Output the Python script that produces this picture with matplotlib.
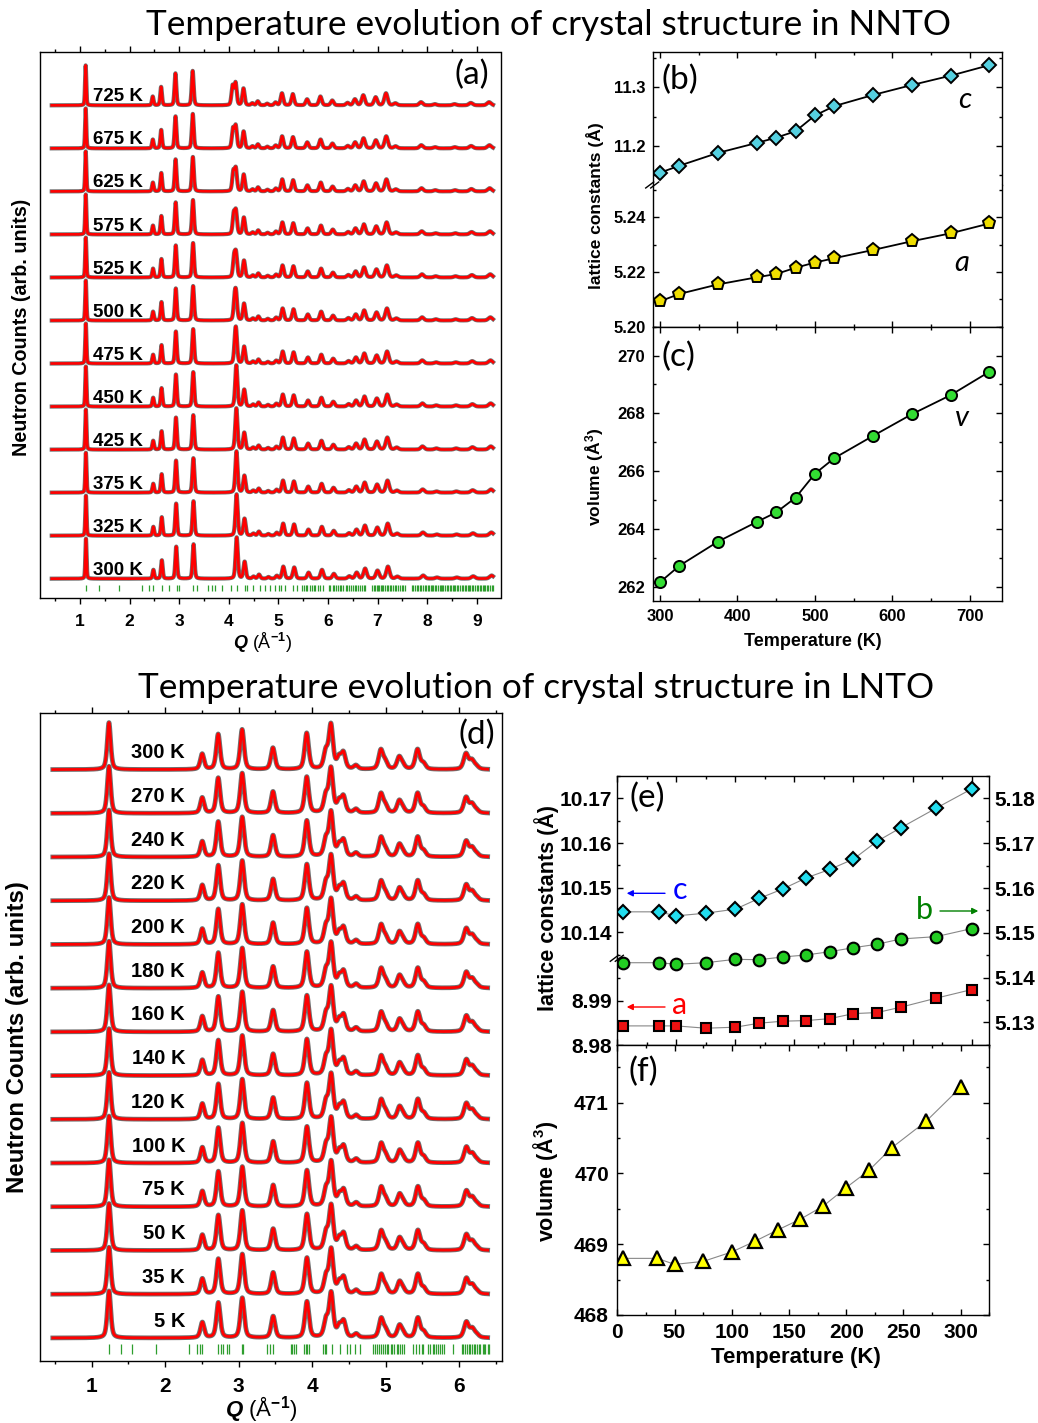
import matplotlib
matplotlib.use("Agg")
import matplotlib.pyplot as plt
import numpy as np
from matplotlib.ticker import MultipleLocator, FormatStrFormatter

plt.rcParams["font.family"] = ["Liberation Sans", "DejaVu Sans"]
plt.rcParams["font.weight"] = "bold"
plt.rcParams["mathtext.fontset"] = "custom"
plt.rcParams["mathtext.rm"] = "Liberation Sans"
plt.rcParams["mathtext.it"] = "Liberation Sans:italic:bold"
plt.rcParams["mathtext.bf"] = "Liberation Sans:bold"
plt.rcParams["axes.linewidth"] = 1.0

W, H = 1038, 1423

# -------------------------------------------------------------------
# NNTO (top half)
# -------------------------------------------------------------------
nnto_temps = [725, 675, 625, 575, 525, 500, 475, 450, 425, 375, 325, 300]
# separation of the doublet near Q = 4.16 at each temperature
nnto_split = [0.06, 0.055, 0.05, 0.045, 0.04, 0.03, 0.02, 0.0, 0.0, 0.0, 0.0, 0.0]
nnto_peak_q = [1.12, 2.48, 2.65, 2.94, 3.29, 4.32, 4.50, 4.61, 4.80, 4.97, 5.10,
               5.32, 5.61, 5.88, 6.12, 6.43, 6.58, 6.75, 7.00, 7.21, 7.40, 7.92,
               8.20, 8.60, 8.93, 9.30]
nnto_peak_h = [1.0, 0.22, 0.46, 0.80, 0.86, 0.42, 0.05, 0.10, 0.04, 0.07, 0.30,
               0.28, 0.15, 0.22, 0.12, 0.06, 0.15, 0.25, 0.20, 0.30, 0.05, 0.08,
               0.03, 0.03, 0.06, 0.08]
nnto_doublet_q = 4.16
nnto_doublet_h = [0.48, 0.55]
nnto_bragg = [1.121, 1.390, 1.793, 2.243, 2.398, 2.478, 2.653, 2.788, 2.949, 3.003,
              3.285, 3.366, 3.588, 3.655, 3.715, 3.856, 4.038, 4.159, 4.320, 4.374,
              4.495, 4.629, 4.737, 4.831, 4.938, 5.005, 5.059, 5.140, 5.288, 5.368,
              5.47, 5.51, 5.55, 5.58, 5.63, 5.67, 5.71, 5.74, 5.79, 5.84, 5.90,
              6.02, 6.05, 6.10, 6.12, 6.17, 6.20, 6.24, 6.27, 6.31, 6.36, 6.38,
              6.43, 6.47, 6.50, 6.54, 6.57, 6.61, 6.64, 6.68, 6.72, 6.75,
              6.88, 6.92, 6.94, 6.98, 7.01, 7.03, 7.07, 7.10, 7.12, 7.16, 7.19,
              7.21, 7.25, 7.28, 7.31, 7.35, 7.38, 7.42, 7.45, 7.49, 7.52, 7.56,
              7.70, 7.72, 7.76, 7.80, 7.82, 7.86, 7.88, 7.92, 7.95, 7.97, 8.01,
              8.03, 8.07, 8.10, 8.12, 8.16, 8.18, 8.22, 8.25, 8.27, 8.31, 8.33,
              8.37, 8.40, 8.42, 8.46, 8.48, 8.52, 8.55, 8.57, 8.61, 8.63, 8.67,
              8.70, 8.72, 8.76, 8.78, 8.82, 8.85, 8.87, 8.91, 8.93, 8.97, 9.00,
              9.02, 9.06, 9.08, 9.12, 9.15, 9.17, 9.21, 9.23, 9.27, 9.30, 9.32]

T_nnto = [300, 325, 375, 425, 450, 475, 500, 525, 575, 625, 675, 725]
c_nnto = [11.154, 11.166, 11.188, 11.205, 11.214, 11.225, 11.252, 11.268,
          11.287, 11.304, 11.320, 11.338]
a_nnto = [5.2093, 5.2120, 5.2155, 5.2181, 5.2193, 5.2216, 5.2235, 5.2251,
          5.2281, 5.2313, 5.2342, 5.2378]
v_nnto = [262.15, 262.72, 263.56, 264.24, 264.57, 265.08, 265.91, 266.45,
          267.22, 267.97, 268.63, 269.44]

# -------------------------------------------------------------------
# LNTO (bottom half)
# -------------------------------------------------------------------
lnto_temps = [300, 270, 240, 220, 200, 180, 160, 140, 120, 100, 75, 50, 35, 5]
lnto_peak_q = [1.236, 2.506, 2.724, 3.05, 3.47, 3.93, 4.19, 4.26, 4.37, 4.43,
               4.60, 4.94, 5.00, 5.19, 5.24, 5.44, 5.52, 6.10, 6.18, 6.24]
lnto_peak_h = [1.0, 0.33, 0.75, 0.85, 0.46, 0.77, 0.35, 0.93, 0.22, 0.33,
               0.08, 0.40, 0.15, 0.25, 0.08, 0.42, 0.12, 0.33, 0.18, 0.06]
lnto_bragg = [1.236, 1.399, 1.544, 1.871, 2.324, 2.438, 2.474, 2.506, 2.724, 2.756,
              2.792, 2.837, 2.873, 3.050, 3.064, 3.381, 3.427, 3.472, 3.708, 3.731,
              3.753, 3.776, 3.894, 3.917, 3.935, 3.953, 4.144, 4.176, 4.189, 4.266,
              4.380, 4.480, 4.516, 4.584, 4.652,
              4.83, 4.86, 4.88, 4.91, 4.94, 4.96, 4.99, 5.02, 5.04, 5.07, 5.09,
              5.12, 5.15, 5.17, 5.20, 5.22, 5.25,
              5.378, 5.414, 5.459, 5.496, 5.514, 5.58, 5.61, 5.64, 5.66, 5.69,
              5.72, 5.74, 5.77, 5.79, 5.922,
              6.04, 6.06, 6.08, 6.11, 6.13, 6.15, 6.18, 6.20, 6.22, 6.25, 6.27,
              6.29, 6.32, 6.34, 6.36, 6.39, 6.41]

T_lnto = [5, 35, 50, 75, 100, 120, 140, 160, 180, 200, 220, 240, 270, 300]
c_lnto = [10.1446, 10.1446, 10.1437, 10.1443, 10.1452, 10.1476, 10.1497,
          10.1522, 10.1541, 10.1564, 10.1604, 10.1634, 10.1678, 10.1721]
b_lnto = [5.14333, 5.14333, 5.14298, 5.14333, 5.14409, 5.14400, 5.14461,
          5.14506, 5.14579, 5.14669, 5.14745, 5.14863, 5.14915, 5.15094]
a_lnto = [8.98434, 8.98434, 8.98434, 8.98382, 8.98405, 8.98494, 8.98539,
          8.98553, 8.98597, 8.98709, 8.98732, 8.98852, 8.99054, 8.99246]
v_lnto = [468.80, 468.80, 468.715, 468.757, 468.89, 469.04, 469.20, 469.354,
          469.54, 469.80, 470.045, 470.365, 470.74, 471.216]

BRAGG_GREEN = "#2e9e2e"
OBS_GREY = "#707070"


def box(x0, y0, x1, y1):
    return [x0 / W, 1 - y1 / H, (x1 - x0) / W, (y1 - y0) / H]


def profile(q, centers, heights, fwhms, eta):
    y = np.zeros_like(q)
    for q0, h, w in zip(centers, heights, fwhms):
        x = (q - q0) / (w / 2)
        y += h * (eta / (1 + x**2) + (1 - eta) * np.exp(-np.log(2) * x**2))
    return y


def ticks(ax, size, direction, pad, major=4, minor=2.5):
    ax.tick_params(axis="both", which="both", direction=direction,
                   labelsize=size, pad=pad, width=1)
    ax.tick_params(which="major", length=major)
    ax.tick_params(which="minor", length=minor)


def break_mark(x, y):
    for dx in (-3, 2):
        fig.add_artist(plt.Line2D([(x + dx - 4) / W, (x + dx + 4) / W],
                                  [1 - (y + 3) / H, 1 - (y - 3) / H],
                                  color="black", lw=1.0))


def ftext(x, y, s, **kw):
    fig.text(x / W, 1 - y / H, s, **kw)


fig = plt.figure(figsize=(W / 100, H / 100), dpi=100)

# Titles
ftext(548, 35, "Temperature evolution of crystal structure in NNTO",
      family="Lato", fontweight="normal", fontsize=25.3, ha="center", va="baseline")
ftext(536, 698, "Temperature evolution of crystal structure in LNTO",
      family="Lato", fontweight="normal", fontsize=25.3, ha="center", va="baseline")

# -------------------------------------------------------------------
# (a) NNTO diffraction patterns
# -------------------------------------------------------------------
ax_a = fig.add_axes(box(40, 51.5, 500.5, 598.3))
q_a = np.linspace(0.43, 9.33, 4000)
a_at = dict(zip(T_nnto, a_nnto))
n = len(nnto_temps)
for i, (T, sp) in enumerate(zip(nnto_temps, nnto_split)):
    off = (n - 1 - i) * 1.075
    s = a_at[300] / a_at[T]
    qs = [q * s for q in nnto_peak_q] + [nnto_doublet_q * s - sp, nnto_doublet_q * s]
    hs = nnto_peak_h + nnto_doublet_h
    y = profile(q_a, qs, hs, [0.02 + 0.008 * q for q in qs], 0.3) + off
    ax_a.plot(q_a, y, color=OBS_GREY, lw=3.0)
    ax_a.plot(q_a, y, color="red", lw=1.9)
    ax_a.text(2.27, off + 0.21, f"{T} K", ha="right", va="center",
              fontsize=13.5, fontweight="bold")
ax_a.vlines(nnto_bragg, -0.30, -0.15, color=BRAGG_GREEN, lw=0.9)
ax_a.set_xlim(0.193, 9.48)
ax_a.set_ylim(-0.49, 13.17)
ax_a.set_yticks([])
ax_a.xaxis.set_major_locator(MultipleLocator(1))
ax_a.xaxis.set_minor_locator(MultipleLocator(0.5))
ax_a.tick_params(top=True, which="both")
ticks(ax_a, 12.5, "out", 7)
ftext(471.5, 75, "(a)", family="Lato", fontweight="normal", fontsize=24,
      ha="center", va="center")
ftext(262, 643, r"$Q$ (Å$^{-1}$)", fontsize=13, fontweight="normal",
      ha="center", va="center")
ftext(22, 327, "Neutron Counts (arb. units)", fontsize=14.2, rotation=90,
      ha="center", va="center")

# -------------------------------------------------------------------
# (b) NNTO lattice constants (broken axis)
# -------------------------------------------------------------------
ax_bu = fig.add_axes(box(652.7, 51.7, 1001.7, 185))
ax_bl = fig.add_axes(box(652.7, 185, 1001.7, 326.7))
ax_bu.plot(T_nnto, c_nnto, color="black", lw=1.3, marker="D", ms=7.6,
           mfc="#55d0e0", mec="black", mew=1.4)
ax_bl.plot(T_nnto, a_nnto, color="black", lw=1.3, marker="p", ms=9.5,
           mfc="#eedd00", mec="black", mew=1.4)
for ax in (ax_bu, ax_bl):
    ax.set_xlim(290.6, 740.9)
    ax.xaxis.set_major_locator(MultipleLocator(100))
    ax.xaxis.set_minor_locator(MultipleLocator(50))
    ax.tick_params(top=True, right=True, which="both", labelbottom=False)
    ticks(ax, 12, "in", 5)
ax_bu.spines["bottom"].set_visible(False)
ax_bl.spines["top"].set_visible(False)
ax_bu.tick_params(bottom=False, which="both")
ax_bl.tick_params(top=False, which="both")
ax_bu.set_ylim(11.133, 11.361)
ax_bu.yaxis.set_major_locator(MultipleLocator(0.1))
ax_bu.yaxis.set_minor_locator(MultipleLocator(0.05))
ax_bu.yaxis.set_major_formatter(FormatStrFormatter("%.1f"))
ax_bl.set_ylim(5.20, 5.2519)
ax_bl.yaxis.set_major_locator(MultipleLocator(0.02))
ax_bl.yaxis.set_minor_locator(MultipleLocator(0.01))
ax_bl.yaxis.set_major_formatter(FormatStrFormatter("%.2f"))
break_mark(652.7, 185)
ftext(680, 80, "(b)", family="Lato", fontweight="normal", fontsize=24,
      ha="center", va="center")
ftext(965, 100, "c", family="Lato", style="italic", fontweight="normal",
      fontsize=21, ha="center", va="center")
ftext(962, 263, "a", family="Lato", style="italic", fontweight="normal",
      fontsize=21, ha="center", va="center")
ftext(595, 206, "lattice constants (Å)", fontsize=12.5, rotation=90,
      ha="center", va="center")

# -------------------------------------------------------------------
# (c) NNTO volume
# -------------------------------------------------------------------
ax_c = fig.add_axes(box(652.7, 326.7, 1001.7, 601))
ax_c.plot(T_nnto, v_nnto, color="black", lw=1.3, marker="o", ms=8,
          mfc="#33dd33", mec="black", mew=1.4)
ax_c.set_xlim(290.6, 740.9)
ax_c.set_ylim(261.5, 271.0)
ax_c.xaxis.set_major_locator(MultipleLocator(100))
ax_c.xaxis.set_minor_locator(MultipleLocator(50))
ax_c.yaxis.set_major_locator(MultipleLocator(2))
ax_c.yaxis.set_minor_locator(MultipleLocator(1))
ax_c.tick_params(top=True, right=True, which="both")
ticks(ax_c, 12, "in", 5.5)
ftext(678, 357, "(c)", family="Lato", fontweight="normal", fontsize=24,
      ha="center", va="center")
ftext(962, 418, "v", family="Lato", style="italic", fontweight="normal",
      fontsize=21, ha="center", va="center")
ftext(595, 477, "volume (Å$^3$)", fontsize=12.5, rotation=90,
      ha="center", va="center")
ftext(812.8, 641, "Temperature (K)", fontsize=13, ha="center", va="center")

# -------------------------------------------------------------------
# (d) LNTO diffraction patterns
# -------------------------------------------------------------------
ax_d = fig.add_axes(box(40, 712.7, 501.7, 1361))
q_d = np.linspace(0.47, 6.39, 4000)
a_l_at = dict(zip(T_lnto, a_lnto))
n = len(lnto_temps)
for i, T in enumerate(lnto_temps):
    off = (n - 1 - i) * 0.93
    s = a_l_at[5] / a_l_at[T]
    qs = [q * s for q in lnto_peak_q]
    y = profile(q_d, qs, lnto_peak_h, [0.05 + 0.004 * q for q in qs], 0.5) + off
    ax_d.plot(q_d, y, color=OBS_GREY, lw=3.4)
    ax_d.plot(q_d, y, color="red", lw=2.0)
    ax_d.text(2.27, off + 0.36, f"{T} K", ha="right", va="center",
              fontsize=14.5, fontweight="bold")
ax_d.vlines(lnto_bragg, -0.34, -0.13, color=BRAGG_GREEN, lw=0.9)
ax_d.set_xlim(0.296, 6.581)
ax_d.set_ylim(-0.49, 13.30)
ax_d.set_yticks([])
ax_d.xaxis.set_major_locator(MultipleLocator(1))
ax_d.xaxis.set_minor_locator(MultipleLocator(0.5))
ax_d.tick_params(top=True, which="both")
ticks(ax_d, 15, "out", 7.5)
ftext(477, 735, "(d)", family="Lato", fontweight="normal", fontsize=24,
      ha="center", va="center")
ftext(261, 1409, r"$Q$ (Å$^{-1}$)", fontsize=16, fontweight="normal",
      ha="center", va="center")
ftext(18, 1037, "Neutron Counts (arb. units)", fontsize=17.3, rotation=90,
      ha="center", va="center")

# -------------------------------------------------------------------
# (e) LNTO lattice constants: c, a on left (broken), b on right
# -------------------------------------------------------------------
ax_e = fig.add_axes(box(617.3, 776, 989.3, 1045.3))
ax_e.plot(T_lnto, b_lnto, color="#888888", lw=0.8, marker="o", ms=8.4,
          mfc="#22cc22", mec="black", mew=1.5, zorder=3)
ax_e.set_xlim(0, 315)
ax_e.set_ylim(5.1249, 5.185)
ax_e.xaxis.set_major_locator(MultipleLocator(50))
ax_e.xaxis.set_minor_locator(MultipleLocator(25))
ax_e.yaxis.set_major_locator(MultipleLocator(0.01))
ax_e.yaxis.set_minor_locator(MultipleLocator(0.005))
ax_e.yaxis.set_major_formatter(FormatStrFormatter("%.2f"))
ax_e.yaxis.tick_right()
ax_e.spines["left"].set_visible(False)
ax_e.tick_params(top=True, which="both", labelbottom=False)
ticks(ax_e, 15, "in", 3.5)

ax_ec = fig.add_axes(box(617.3, 776, 989.3, 958.3))
ax_ea = fig.add_axes(box(617.3, 958.3, 989.3, 1045.3))
ax_ec.plot(T_lnto, c_lnto, color="#888888", lw=0.8, marker="D", ms=7.2,
           mfc="#22ddee", mec="black", mew=1.5)
ax_ea.plot(T_lnto, a_lnto, color="#888888", lw=0.8, marker="s", ms=6.8,
           mfc="#ee1111", mec="black", mew=1.5)
ax_ec.set_ylim(10.1342, 10.175)
ax_ea.set_ylim(8.98, 8.99946)
for ax in (ax_ec, ax_ea):
    ax.set_xlim(0, 315)
    ax.patch.set_visible(False)
    for side in ("top", "right", "bottom"):
        ax.spines[side].set_visible(False)
    ax.set_xticks([])
    ax.yaxis.set_major_locator(MultipleLocator(0.01))
    ax.yaxis.set_minor_locator(MultipleLocator(0.005))
    ax.yaxis.set_major_formatter(FormatStrFormatter("%.2f"))
    ticks(ax, 15, "in", 4)
break_mark(617.3, 958.3)

ftext(647, 798, "(e)", family="Lato", fontweight="normal", fontsize=24,
      ha="center", va="center")
ftext(680.5, 890, "c", family="Lato", fontweight="normal", fontsize=22,
      color="blue", ha="center", va="center")
ftext(924.5, 910, "b", family="Lato", fontweight="normal", fontsize=22,
      color="green", ha="center", va="center")
ftext(679.5, 1005, "a", family="Lato", fontweight="normal", fontsize=22,
      color="red", ha="center", va="center")
for (x0, x1, yy, col) in [(665, 626.7, 893.3, "blue"), (940, 978.3, 911, "green"),
                          (665, 626.7, 1007, "red")]:
    ax_e.annotate("", xy=(x1, H - yy), xytext=(x0, H - yy),
                  xycoords="figure pixels", textcoords="figure pixels",
                  arrowprops=dict(arrowstyle="-|>", color=col, lw=1.0,
                                  mutation_scale=9, shrinkA=0, shrinkB=0))
ftext(547, 908, "lattice constants (Å)", fontsize=15.5, rotation=90,
      ha="center", va="center")

# -------------------------------------------------------------------
# (f) LNTO volume
# -------------------------------------------------------------------
ax_f = fig.add_axes(box(617.3, 1045.3, 989.3, 1315))
ax_f.plot(T_lnto, v_lnto, color="#888888", lw=0.8, marker="^", ms=10.5,
          mfc="#ffff00", mec="black", mew=1.6)
ax_f.set_xlim(0, 325)
ax_f.set_ylim(468, 471.81)
ax_f.xaxis.set_major_locator(MultipleLocator(50))
ax_f.xaxis.set_minor_locator(MultipleLocator(25))
ax_f.yaxis.set_major_locator(MultipleLocator(1))
ax_f.yaxis.set_minor_locator(MultipleLocator(0.5))
ax_f.tick_params(top=True, right=True, which="both")
ticks(ax_f, 15, "in", 6)
ftext(643, 1072, "(f)", family="Lato", fontweight="normal", fontsize=24,
      ha="center", va="center")
ftext(545, 1181, "volume (Å$^3$)", fontsize=15.5, rotation=90,
      ha="center", va="center")
ftext(796, 1358, "Temperature (K)", fontsize=16, ha="center", va="center")

fig.savefig("out.png", dpi=100)
